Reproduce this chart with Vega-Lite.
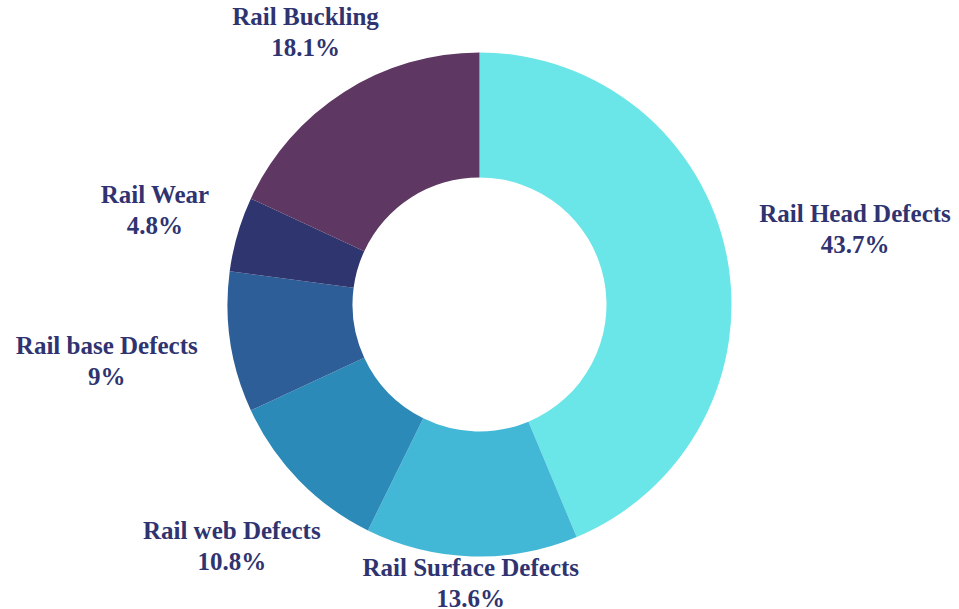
{
  "$schema": "https://vega.github.io/schema/vega-lite/v6.json",
  "width": 959,
  "height": 609,
  "padding": 0,
  "autosize": "none",
  "background": "white",
  "view": {"stroke": null},
  "data": {
    "values": [
      {"category": "Rail Head Defects", "value": 43.7, "pct": "43.7%", "order": 1},
      {"category": "Rail Surface Defects", "value": 13.6, "pct": "13.6%", "order": 2},
      {"category": "Rail web Defects", "value": 10.8, "pct": "10.8%", "order": 3},
      {"category": "Rail base Defects", "value": 9.0, "pct": "9%", "order": 4},
      {"category": "Rail Wear", "value": 4.8, "pct": "4.8%", "order": 5},
      {"category": "Rail Buckling", "value": 18.1, "pct": "18.1%", "order": 6}
    ]
  },
  "encoding": {
    "theta": {"field": "value", "type": "quantitative", "stack": true},
    "order": {"field": "order", "type": "quantitative"}
  },
  "layer": [
    {
      "mark": {"type": "arc", "outerRadius": 252, "innerRadius": 127},
      "encoding": {
        "color": {
          "field": "category",
          "type": "nominal",
          "legend": null,
          "scale": {
            "domain": ["Rail Head Defects", "Rail Surface Defects", "Rail web Defects", "Rail base Defects", "Rail Wear", "Rail Buckling"],
            "range": ["#6ae5e8", "#43b8d6", "#2c8ab8", "#2e5e97", "#2f356e", "#5e3863"]
          }
        }
      }
    },
    {
      "mark": {
        "type": "text",
        "font": "Liberation Serif, Times New Roman, serif",
        "fontWeight": "bold",
        "fontSize": 25,
        "color": "#2f3470",
        "align": "center",
        "baseline": "middle",
        "dy": -15,
        "radius": {"expr": "datum.category === 'Rail Head Defects' ? 383 : datum.category === 'Rail Surface Defects' ? 279 : datum.category === 'Rail web Defects' ? 346 : datum.category === 'Rail base Defects' ? 377 : datum.category === 'Rail Wear' ? 338 : 323"}
      },
      "encoding": {
        "text": {"field": "category", "type": "nominal"}
      }
    },
    {
      "mark": {
        "type": "text",
        "font": "Liberation Serif, Times New Roman, serif",
        "fontWeight": "bold",
        "fontSize": 25,
        "color": "#2f3470",
        "align": "center",
        "baseline": "middle",
        "dy": 16,
        "radius": {"expr": "datum.category === 'Rail Head Defects' ? 383 : datum.category === 'Rail Surface Defects' ? 279 : datum.category === 'Rail web Defects' ? 346 : datum.category === 'Rail base Defects' ? 377 : datum.category === 'Rail Wear' ? 338 : 323"}
      },
      "encoding": {
        "text": {"field": "pct", "type": "nominal"}
      }
    }
  ]
}
